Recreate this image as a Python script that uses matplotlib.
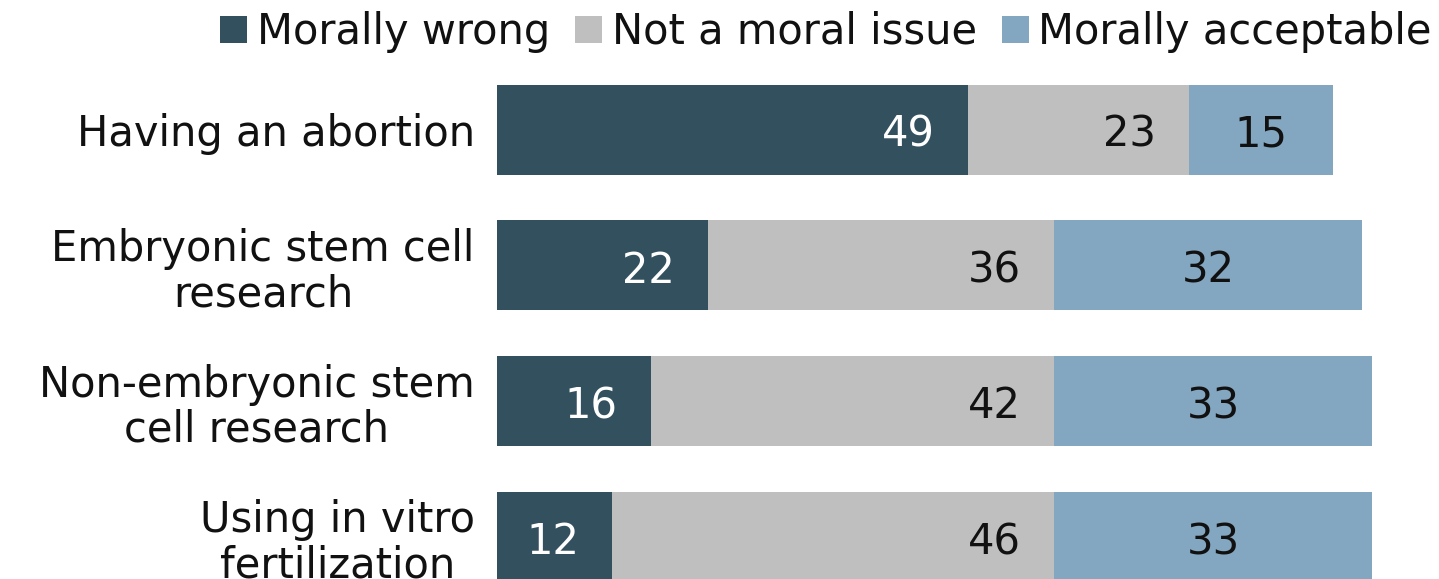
import matplotlib
matplotlib.use("Agg")
import matplotlib.pyplot as plt
import numpy as np

# dados da pesquisa (percentuais)
categorias = [
    "Having an abortion",
    "Embryonic stem cell\nresearch",
    "Non-embryonic stem\ncell research",
    "Using in vitro\nfertilization",
]
moralmente_errado = [49, 22, 16, 12]
nao_moral = [23, 36, 42, 46]
moralmente_aceitavel = [15, 32, 33, 33]

series = ["Morally wrong", "Not a moral issue", "Morally acceptable"]
cores = ["#33505f", "#bfbfbf", "#83a6c1"]
cores_texto = ["white", "#111111", "#111111"]

FONTE = 30
plt.rcParams["font.family"] = ["DejaVu Sans"]

W, H = 1439, 579
fig = plt.figure(figsize=(W / 100, H / 100), dpi=100)

# eixo ocupa toda a altura; escala ~9.61 px por ponto percentual
x0 = 497
px_por_unidade = 9.61
ax = fig.add_axes([x0 / W, 0, (W - x0) / W, 1])
ax.set_xlim(0, (W - x0) / px_por_unidade)
passo = 135.8
centro0 = 129.5
ax.set_ylim((H - centro0) / passo, -centro0 / passo)

y = np.arange(len(categorias))
altura = 90 / passo
esquerda = np.zeros(len(categorias))
valores = [moralmente_errado, nao_moral, moralmente_aceitavel]

for i, (vals, nome, cor) in enumerate(zip(valores, series, cores)):
    vals = np.array(vals)
    ax.barh(y, vals, left=esquerda, height=altura, color=cor, label=nome,
            edgecolor="none")
    for yi, l, v in zip(y, esquerda, vals):
        if i < 2:
            # rótulo perto do fim do segmento
            ax.annotate(str(v), xy=(l + v, yi), xytext=(-24, -12.5),
                        textcoords="offset points", ha="right", va="baseline",
                        fontsize=FONTE, color=cores_texto[i])
        else:
            ax.annotate(str(v), xy=(l + v / 2, yi), xytext=(0, -12.5),
                        textcoords="offset points", ha="center", va="baseline",
                        fontsize=FONTE, color=cores_texto[i])
    esquerda = esquerda + vals

ax.set_yticks(y)
ax.set_yticklabels(categorias, fontsize=FONTE, color="#111111")
for t in ax.get_yticklabels():
    t.set_multialignment("center")
    t.set_linespacing(1.1)
ax.tick_params(axis="y", length=0, pad=16)
ax.set_xticks([])
for s in ax.spines.values():
    s.set_visible(False)

fig.legend(loc="upper right", bbox_to_anchor=(1432 / W, 1 - 11 / H),
           ncol=3, frameon=False, fontsize=FONTE,
           handlelength=0.64, handleheight=0.62, handletextpad=0.24,
           columnspacing=0.6, borderpad=0, borderaxespad=0,
           labelcolor="#111111")

fig.savefig("out.png", dpi=100, facecolor="white")
